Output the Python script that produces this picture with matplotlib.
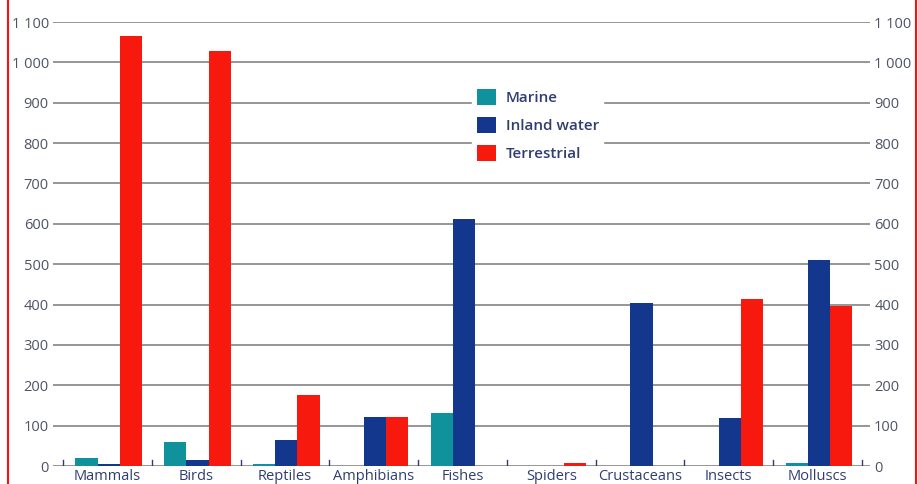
import numpy as np
import matplotlib
matplotlib.use("Agg")
import matplotlib.pyplot as plt
from matplotlib.patches import Patch
from matplotlib.lines import Line2D

# ------------ Data -----------------
categories = ["Mammals", "Birds", "Reptiles", "Amphibians", "Fishes",
              "Spiders", "Crustaceans", "Insects", "Molluscs"]
marine = [20, 60, 6, 0, 131, 0, 0, 0, 8]
inland = [4, 14, 64, 121, 613, 0, 404, 118, 511]
terrestrial = [1065, 1027, 176, 121, 0, 8, 0, 414, 397]
series_names = ["Marine", "Inland water", "Terrestrial"]
yticks = list(range(0, 1200, 100))

# ------------ Style -----------------
COLORS = ["#10929c", "#13378c", "#f7180e"]
GRID = "#8e8e8e"
TICK_TXT = "#4f5366"
CAT_TXT = "#2f3d72"
BAR_W = 0.25

plt.rcParams["font.family"] = ["Open Sans", "DejaVu Sans"]

fig = plt.figure(figsize=(9.18, 4.84), dpi=100)
ax = fig.add_axes([53 / 918, 1 - 466 / 484, (870 - 53) / 918, (466 - 22) / 484])

x = np.arange(len(categories))
offs = [-BAR_W, 0, BAR_W]
for vals, off, col in zip([marine, inland, terrestrial], offs, COLORS):
    ax.bar(x + off + 0.015, vals, width=BAR_W, color=col, zorder=3, clip_on=False)

for t in yticks:
    ax.axhline(t, color=GRID, lw=1.3, zorder=1)

# small dividers between groups
for b in np.arange(-0.5, len(categories), 1.0):
    ax.add_line(Line2D([b, b], [0, 15], color=CAT_TXT, lw=1.0, zorder=4))

ax.set_xlim(-0.613, 8.59)
ax.set_ylim(0, 1100)

def fmt(v):
    return "{:,}".format(v).replace(",", " ")

ax.set_yticks(yticks)
ax.set_yticklabels([fmt(v) for v in yticks])
ax.tick_params(axis="y", length=0, pad=3, labelsize=10.5, labelcolor=TICK_TXT,
               left=True, right=True, labelleft=True, labelright=True)
ax.set_xticks(x)
ax.set_xticklabels(categories)
ax.tick_params(axis="x", length=0, pad=2, labelsize=10.5, labelcolor=CAT_TXT)
for s in ax.spines.values():
    s.set_visible(False)

handles = [Patch(facecolor=c, edgecolor="none") for c in COLORS]
leg = fig.legend(handles, series_names, loc="upper left",
                 bbox_to_anchor=(472 / 918, 1 - 84 / 484), frameon=True,
                 prop={"size": 11, "weight": "semibold"},
                 handlelength=1.3, handleheight=1.3,
                 handletextpad=0.6, labelspacing=0.75, borderpad=0.3,
                 borderaxespad=0)
leg.get_frame().set_facecolor("white")
leg.get_frame().set_edgecolor("white")
leg.get_frame().set_alpha(1)
for t in leg.get_texts():
    t.set_color(CAT_TXT)

# red frame lines at both sides
fig.add_artist(Line2D([8 / 918, 8 / 918], [0, 1], color="#ff1010", lw=1.5))
fig.add_artist(Line2D([916 / 918, 916 / 918], [0, 1], color="#ff1010", lw=1.5))

fig.savefig("out.png", dpi=100)
